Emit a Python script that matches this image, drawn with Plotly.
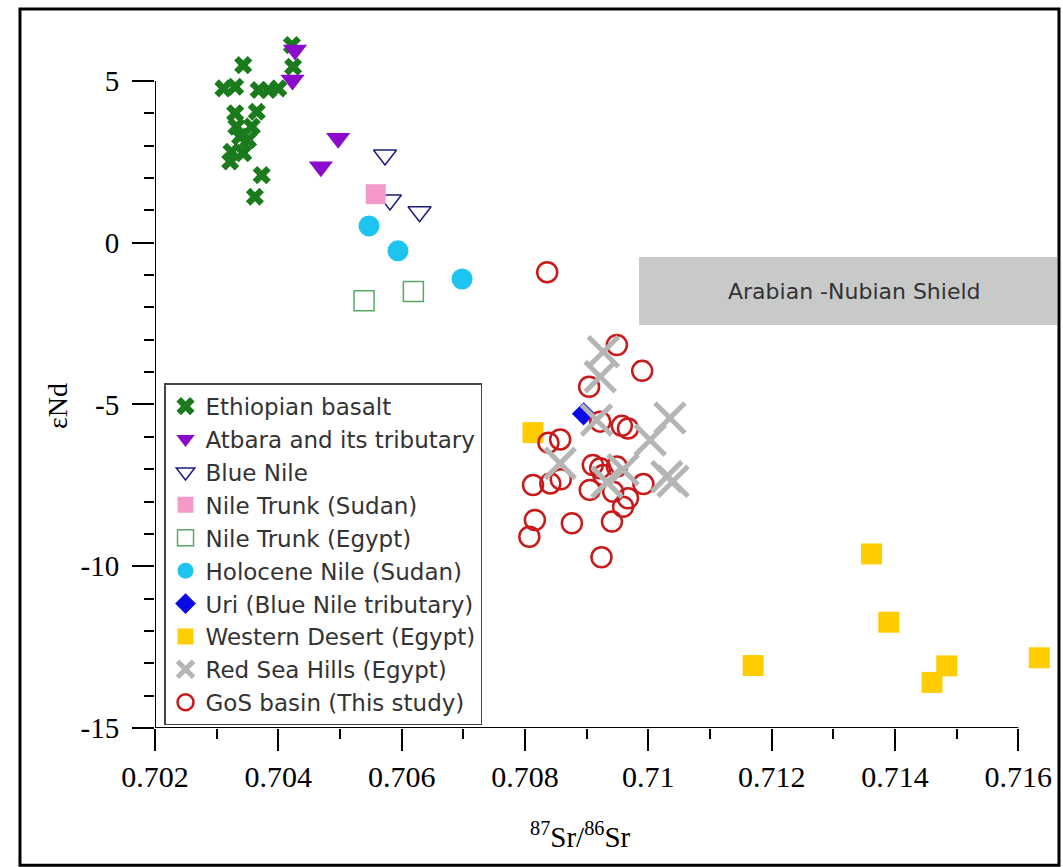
import plotly.graph_objects as go

# ---- data (87Sr/86Sr vs eNd) ----
ETH_SR = [0.70422, 0.70424, 0.70343, 0.70311, 0.70330, 0.70368, 0.70384, 0.70400, 0.70330, 0.70365,
          0.70332, 0.70357, 0.70338, 0.70351, 0.70324, 0.70343, 0.70322, 0.70373, 0.70362]
ETH_ND = [6.11, 5.44, 5.49, 4.77, 4.82, 4.72, 4.72, 4.77, 4.00, 4.05,
          3.59, 3.59, 3.28, 3.18, 2.81, 2.77, 2.51, 2.09, 1.42]

ATB_SR = [0.70427, 0.70423, 0.70497, 0.70469]
ATB_ND = [5.96, 5.03, 3.23, 2.35]

BN_SR = [0.70573, 0.70581, 0.70629]
BN_ND = [2.71, 1.32, 0.96]

NTS_SR = [0.70558]
NTS_ND = [1.50]

NTE_SR = [0.70539, 0.70619]
NTE_ND = [-1.79, -1.51]

HOL_SR = [0.70547, 0.70594, 0.70698]
HOL_ND = [0.52, -0.25, -1.12]

URI_SR = [0.70895]
URI_ND = [-5.29]

WD_SR = [0.70813, 0.71362, 0.71390, 0.71170, 0.71484, 0.71460, 0.71634]
WD_ND = [-5.87, -9.62, -11.73, -13.07, -13.08, -13.59, -12.83]

RSH_SR = [0.70927, 0.70922, 0.70916, 0.71035, 0.71003, 0.70857, 0.70959, 0.70933, 0.71030, 0.71040]
RSH_ND = [-3.37, -4.14, -5.48, -5.42, -6.10, -6.82, -7.02, -7.40, -7.23, -7.37]

GOS_SR = [0.70949, 0.70990, 0.70904, 0.70922, 0.70957, 0.70967, 0.70838, 0.70857, 0.70910, 0.70922,
          0.70927, 0.70949, 0.70813, 0.70841, 0.70858, 0.70905, 0.70943, 0.70967, 0.70959, 0.70992,
          0.70816, 0.70807, 0.70876, 0.70941, 0.70924, 0.70836]
GOS_ND = [-3.16, -3.96, -4.45, -5.53, -5.66, -5.74, -6.18, -6.08, -6.87, -6.97,
          -7.18, -6.92, -7.49, -7.44, -7.31, -7.64, -7.70, -7.90, -8.16, -7.46,
          -8.57, -9.09, -8.67, -8.62, -9.72, -0.91]

# Arabian-Nubian Shield field
SHIELD_SR = [0.70985, 0.71663]
SHIELD_ND = [-2.54, -0.44]
SHIELD_LABEL_POS = [0.71335, -1.5]

# ticks
X_TICKS = [0.702, 0.704, 0.706, 0.708, 0.710, 0.712, 0.714, 0.716]
X_TICK_TEXT = ["0.702", "0.704", "0.706", "0.708", "0.71", "0.712", "0.714", "0.716"]
X_MINOR = [0.703, 0.705, 0.707, 0.709, 0.711, 0.713, 0.715]
Y_TICKS = [-15, -10, -5, 0, 5]
Y_TICK_TEXT = ["-15", "-10", "-5", "0", "5"]
Y_MINOR = [v for v in range(-14, 5) if v % 5 != 0]

SANS = "DejaVu Sans"
SERIF = "Liberation Serif, Times New Roman, serif"

fig = go.Figure()

series = [
    ("Ethiopian basalt", ETH_SR, ETH_ND, dict(symbol="x", size=16, color="#1b7a1b", line=dict(width=0))),
    ("Atbara and its tributary", ATB_SR, ATB_ND, dict(symbol="triangle-down", size=21, color="#8a0bc9", line=dict(width=0))),
    ("Blue Nile", BN_SR, BN_ND, dict(symbol="triangle-down-open", size=20, color="#1c1c7a", line=dict(width=1.5))),
    ("Nile Trunk (Sudan)", NTS_SR, NTS_ND, dict(symbol="square", size=20, color="#f59ac8", line=dict(width=0))),
    ("Nile Trunk (Egypt)", NTE_SR, NTE_ND, dict(symbol="square-open", size=20, color="#58a866", line=dict(width=1.5))),
    ("Holocene Nile (Sudan)", HOL_SR, HOL_ND, dict(symbol="circle", size=21, color="#1cc4ef", line=dict(width=0))),
    ("Uri (Blue Nile tributary)", URI_SR, URI_ND, dict(symbol="diamond", size=18, color="#0a0ae6", line=dict(width=0))),
    ("Western Desert (Egypt)", WD_SR, WD_ND, dict(symbol="square", size=21, color="#ffcc00", line=dict(width=0))),
    ("GoS basin (This study)", GOS_SR, GOS_ND, dict(symbol="circle-open", size=20, color="#c81a1a", line=dict(width=2.5))),
    ("Red Sea Hills (Egypt)", RSH_SR, RSH_ND, dict(symbol="x-thin-open", size=30, color="#b5b5b5", line=dict(width=5, color="#b5b5b5"))),
]
legend_rank = {"Red Sea Hills (Egypt)": 9, "GoS basin (This study)": 10}

for i, (name, xs, ys, mk) in enumerate(series):
    fig.add_trace(go.Scatter(
        x=xs, y=ys, mode="markers", name=name, marker=mk,
        legendrank=legend_rank.get(name, i + 1),
    ))

# shield field + label
fig.add_shape(type="rect", xref="x", yref="y",
              x0=SHIELD_SR[0], x1=SHIELD_SR[1], y0=SHIELD_ND[0], y1=SHIELD_ND[1],
              fillcolor="#c8c9c9", line=dict(width=0), layer="below")
fig.add_annotation(x=SHIELD_LABEL_POS[0], y=SHIELD_LABEL_POS[1], text="Arabian -Nubian Shield",
                   showarrow=False, font=dict(family=SANS, size=22, color="#333333"))

# axis lines only over the tick span
fig.add_shape(type="line", xref="x", yref="y", x0=X_TICKS[0], x1=X_TICKS[-1], y0=Y_TICKS[0], y1=Y_TICKS[0],
              line=dict(color="black", width=2))
fig.add_shape(type="line", xref="x", yref="y", x0=X_TICKS[0], x1=X_TICKS[0], y0=Y_TICKS[0], y1=Y_TICKS[-1],
              line=dict(color="black", width=2))

# outer frame
fig.add_shape(type="rect", xref="paper", yref="paper", x0=-0.1497, x1=1.0022, y0=-0.194, y1=1.0155,
              line=dict(color="black", width=3), fillcolor="rgba(0,0,0,0)")

# axis titles
fig.add_annotation(xref="paper", yref="paper", x=-0.1075, y=0.455, xanchor="center", yanchor="middle",
                   text="εNd", textangle=-90,
                   showarrow=False, font=dict(family=SERIF, size=28, color="black"))
fig.add_annotation(xref="paper", yref="paper", x=0.472, y=-0.151, xanchor="center", yanchor="middle",
                   text="<sup>87</sup>Sr/<sup>86</sup>Sr",
                   showarrow=False, font=dict(family=SERIF, size=29, color="black"))

fig.update_xaxes(
    range=[0.702, 0.716627], showline=False, showgrid=False, zeroline=False,
    tickmode="array", tickvals=X_TICKS, ticktext=X_TICK_TEXT,
    ticks="outside", ticklen=22, tickwidth=2, tickcolor="black",
    tickfont=dict(family=SERIF, size=30, color="black"),
    minor=dict(tickmode="array", tickvals=X_MINOR, ticks="outside", ticklen=10, tickwidth=2, tickcolor="black"),
)
fig.update_yaxes(
    range=[-15, 6.885], showline=False, showgrid=False, zeroline=False,
    tickmode="array", tickvals=Y_TICKS, ticktext=Y_TICK_TEXT,
    ticks="outside", ticklen=22, tickwidth=2, tickcolor="black", ticklabelstandoff=7,
    tickfont=dict(family=SERIF, size=29, color="black"),
    minor=dict(tickmode="array", tickvals=Y_MINOR, ticks="outside", ticklen=10, tickwidth=2, tickcolor="black"),
)

fig.update_layout(
    width=1063, height=867,
    margin=dict(l=155, r=6, t=20, b=139),
    paper_bgcolor="white", plot_bgcolor="white",
    showlegend=True,
    legend=dict(
        x=0.01, y=0.487, xanchor="left", yanchor="top",
        bgcolor="white", bordercolor="#444444", borderwidth=1.5,
        font=dict(family=SANS, size=23, color="#333333"),
        tracegroupgap=0,
    ),
)

fig.write_html("out.html", config={"displayModeBar": False},
               post_script="document.body.style.margin='0';")
